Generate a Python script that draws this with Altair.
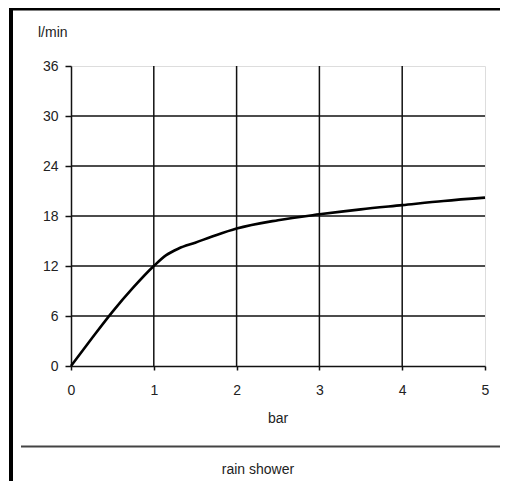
import altair as alt
import pandas as pd

# data
pressure = [0, 0.25, 0.5, 0.75, 1.0, 1.15, 1.3, 1.5, 1.75, 2.0, 2.5, 3.0, 3.5, 4.0, 4.5, 5.0]
flow = [0, 3.3, 6.5, 9.4, 12.0, 13.3, 14.1, 14.8, 15.7, 16.5, 17.5, 18.2, 18.8, 19.3, 19.8, 20.2]
x_ticks = [0, 1, 2, 3, 4, 5]
y_ticks = [0, 6, 12, 18, 24, 30, 36]
v_grid = [1, 2, 3, 4]
h_grid = [6, 12, 18, 24, 30]

FONT = "Liberation Sans"
FS = 14
W, H = 414, 300

xs = alt.Scale(domain=[0, 5], nice=False)
ys = alt.Scale(domain=[0, 36], nice=False)

grid_color = "#111111"

x_axis = alt.Axis(
    values=x_ticks, grid=False, title=None, format="d",
    domainColor=grid_color, domainWidth=1.5, tickColor=grid_color, tickWidth=1.5,
    tickSize=4, labelPadding=13, labelFont=FONT, labelFontSize=FS, labelColor="#222",
    labelFlush=False)
y_axis = alt.Axis(
    values=y_ticks, grid=False, title=None, format="d",
    domainColor=grid_color, domainWidth=1.5, tickColor=grid_color, tickWidth=1.5,
    tickSize=6, labelPadding=7, labelFont=FONT, labelFontSize=FS, labelColor="#222")

curve_df = pd.DataFrame({"bar": pressure, "flow": flow})
vg_df = pd.DataFrame({"bar": v_grid, "flow": [0] * len(v_grid), "flow2": [36] * len(v_grid)})
hg_df = pd.DataFrame({"flow": h_grid, "bar": [0] * len(h_grid), "bar2": [5] * len(h_grid)})
one = pd.DataFrame({"k": [0]})

vgrid = alt.Chart(vg_df).mark_rule(color=grid_color, strokeWidth=1.5).encode(
    x=alt.X("bar:Q", scale=xs, axis=x_axis),
    y=alt.Y("flow:Q", scale=ys, axis=y_axis),
    y2="flow2:Q",
)
hgrid = alt.Chart(hg_df).mark_rule(color=grid_color, strokeWidth=1.5).encode(
    y=alt.Y("flow:Q", scale=ys, axis=y_axis),
    x=alt.X("bar:Q", scale=xs, axis=x_axis),
    x2="bar2:Q",
)
line = alt.Chart(curve_df).mark_line(color="black", strokeWidth=2.6, interpolate="monotone").encode(
    x=alt.X("bar:Q", scale=xs, axis=x_axis),
    y=alt.Y("flow:Q", scale=ys, axis=y_axis),
)

def txt(s, x, y, align="center", size=FS):
    return alt.Chart(one).mark_text(text=s, font=FONT, fontSize=size, color="#222",
                                    align=align, baseline="middle").encode(
        x=alt.value(x), y=alt.value(y))

ylabel = txt("l/min", -33, -33, align="left")
xlabel = txt("bar", 207, 353)
caption = txt("rain shower", 187, 404)

separator = alt.Chart(one).mark_rule(color="#444444", strokeWidth=2).encode(
    x=alt.value(-50), x2=alt.value(429), y=alt.value(380.5))
left_border = alt.Chart(one).mark_rule(color="black", strokeWidth=4).encode(
    x=alt.value(-60), y=alt.value(-58), y2=alt.value(415))
top_border = alt.Chart(one).mark_rule(color="black", strokeWidth=3).encode(
    x=alt.value(-62), x2=alt.value(429), y=alt.value(-57), y2=alt.value(-57))

chart = alt.layer(
    vgrid, hgrid, line, ylabel, xlabel, caption, separator, left_border, top_border
).properties(
    width=W, height=H,
    autosize=alt.AutoSizeParams(type="none"),
    padding={"left": 63, "top": 58, "right": 15, "bottom": 115},
).configure_view(strokeWidth=0).configure(background="white")

chart.save("out.html", embed_options={"renderer": "svg", "actions": False})
